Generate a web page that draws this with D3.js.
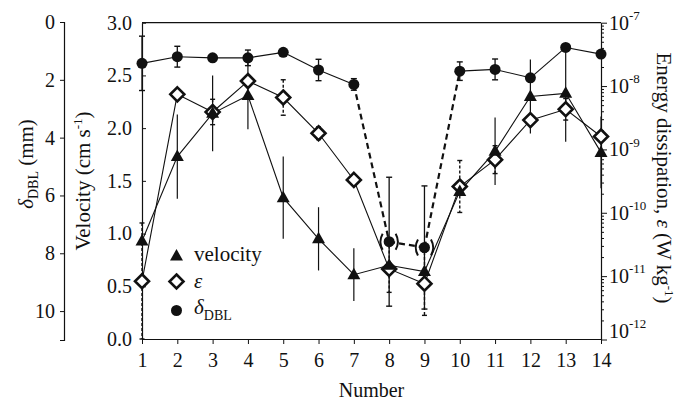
<!DOCTYPE html>
<html>
<head>
<meta charset="utf-8">
<script src="https://cdn.jsdelivr.net/npm/d3@7"></script>
<style>
  html, body { margin: 0; padding: 0; background: #fff; }
  svg { display: block; }
  text { font-family: "Liberation Serif", "Times New Roman", serif; fill: #111; }
</style>
</head>
<body>
<svg id="chart" width="689" height="408"></svg>
<script>
// ---- data ----
const numbers = [1, 2, 3, 4, 5, 6, 7, 8, 9, 10, 11, 12, 13, 14];
const velocity = [0.93, 1.73, 2.14, 2.31, 1.34, 0.95, 0.61, 0.70, 0.64, 1.40, 1.78, 2.30, 2.33, 1.77];
const velocitySD = [0, 0.40, 0.36, 0.32, 0.39, 0.30, 0.25, 0, 0, 0, 0.32, 0.35, 0.46, 0.34];
const epsilon = [8.3e-12, 7.4e-9, 3.9e-9, 1.2e-8, 6.6e-9, 1.8e-9, 3.3e-10, 1.3e-11, 7.6e-12, 2.6e-10, 6.9e-10, 2.9e-9, 4.3e-9, 1.6e-9];
const epsilonErrDecades = [0.92, 0, 0.2, 0.05, 0.28, 0.1, 0.05, 0.37, 0.5, 0.41, 0.22, 0, 0.17, 0];
const delta = [1.43, 1.20, 1.24, 1.24, 1.05, 1.66, 2.16, 7.6, 7.8, 1.70, 1.64, 1.93, 0.88, 1.11];
const deltaSD = [0.94, 0.36, 0.10, 0.27, 0, 0.37, 0.20, 2.23, 2.13, 0.32, 0.36, 0.10, 0.10, 0.10];
const deltaUncertain = [8, 9];           // points shown in parentheses
const deltaDashedFrom = [7, 8, 9];       // segments starting at these numbers are dashed
const velocityTicks = [0, 0.5, 1.0, 1.5, 2.0, 2.5, 3.0];
const deltaTicks = [0, 2, 4, 6, 8, 10];
const epsTicks = [1e-12, 1e-11, 1e-10, 1e-9, 1e-8, 1e-7];

// ---- layout ----
const FONT = '"Liberation Serif", "Times New Roman", serif';
const svg = d3.select("#chart").attr("font-family", FONT);
const pL = 142, pR = 601, pT = 22.7, pB = 339;
const x = d3.scaleLinear().domain([1, 14]).range([pL, pR]);
const yV = d3.scaleLinear().domain([0, 3]).range([pB, pT]);
const yD = d3.scaleLinear().domain([0, 11]).range([22, 340]);
const yE = d3.scaleLog().domain([1e-12, 1e-7]).range([339.5, pT]);
const ink = "#111";

// frame top
svg.append("line").attr("x1", pL).attr("x2", pR).attr("y1", pT).attr("y2", pT)
  .attr("stroke", ink).attr("stroke-width", 1.2);

// δ axis (far left)
const gD = svg.append("g").attr("transform", "translate(64,0)")
  .call(d3.axisLeft(yD).tickValues(deltaTicks).tickFormat(d3.format("d")).tickSize(4).tickPadding(5));
// velocity axis
const gV = svg.append("g").attr("transform", `translate(${pL},0)`)
  .call(d3.axisLeft(yV).tickValues(velocityTicks).tickFormat(d3.format(".1f")).tickSizeInner(-4).tickSizeOuter(0).tickPadding(10));
// x axis
const gX = svg.append("g").attr("transform", `translate(0,${pB})`)
  .call(d3.axisBottom(x).tickValues(numbers).tickFormat(d3.format("d")).tickSize(5).tickSizeOuter(0).tickPadding(9));
// ε axis (right, log)
const minor = [];
for (let e = -12; e < -7; e++) for (let m = 2; m <= 9; m++) minor.push(m * Math.pow(10, e));
const gEm = svg.append("g").attr("transform", `translate(${pR},0)`)
  .call(d3.axisRight(yE).tickValues(minor).tickFormat("").tickSizeInner(3).tickSizeOuter(0));
gEm.select(".domain").remove();
const gE = svg.append("g").attr("transform", `translate(${pR},0)`)
  .call(d3.axisRight(yE).tickValues(epsTicks).tickFormat("").tickSizeInner(6).tickSizeOuter(0));

[gD, gV, gX, gE, gEm].forEach(g => {
  g.attr("font-family", FONT).attr("font-size", 20);
  g.selectAll("path.domain").attr("stroke", ink).attr("stroke-width", 1.2);
  g.selectAll(".tick line").attr("stroke", ink).attr("stroke-width", 1);
  g.selectAll("text").attr("font-size", 20).attr("font-family", FONT).attr("fill", ink);
});

// right axis labels 10^n
epsTicks.forEach(v => {
  const e = Math.round(Math.log10(v));
  let yy = yE(v);
  if (e === -12) yy -= 9;
  const t = svg.append("text").attr("x", pR + 8).attr("y", yy).attr("dy", "0.35em").attr("font-size", 20);
  t.append("tspan").text("10");
  t.append("tspan").attr("font-size", 13).attr("dy", "-0.75em").text(String(e));
});

// axis titles
const tD = svg.append("text").attr("transform", "translate(33,164) rotate(-90)")
  .attr("text-anchor", "middle").attr("font-size", 21);
tD.append("tspan").attr("font-style", "italic").text("δ");
tD.append("tspan").attr("font-size", 14).attr("dy", 5).text("DBL");
tD.append("tspan").attr("dy", -5).text(" (mm)");

const tV = svg.append("text").attr("transform", "translate(90,181) rotate(-90)")
  .attr("text-anchor", "middle").attr("font-size", 21);
tV.append("tspan").text("Velocity (cm s");
tV.append("tspan").attr("font-size", 13).attr("dy", -8).text("-1");
tV.append("tspan").attr("dy", 8).text(")");

const tE = svg.append("text").attr("transform", "translate(657,178) rotate(90)")
  .attr("text-anchor", "middle").attr("font-size", 21);
tE.append("tspan").text("Energy dissipation, ");
tE.append("tspan").attr("font-style", "italic").text("ε");
tE.append("tspan").text(" (W kg");
tE.append("tspan").attr("font-size", 13).attr("dy", -8).text("-1");
tE.append("tspan").attr("dy", 8).text(")");

svg.append("text").attr("x", (pL + pR) / 2).attr("y", 397).attr("text-anchor", "middle")
  .attr("font-size", 20).text("Number");

// ---- series ----
const idx = d3.range(numbers.length);

// δ line: solid and dashed segments
idx.slice(0, -1).forEach(i => {
  const dashed = deltaDashedFrom.includes(numbers[i]);
  svg.append("line")
    .attr("x1", x(numbers[i])).attr("y1", yD(delta[i]))
    .attr("x2", x(numbers[i + 1])).attr("y2", yD(delta[i + 1]))
    .attr("stroke", ink).attr("stroke-width", dashed ? 2.2 : 1.1)
    .attr("stroke-dasharray", dashed ? "6,4" : null);
});
// ε line
svg.append("path").datum(idx)
  .attr("d", d3.line().x(i => x(numbers[i])).y(i => yE(epsilon[i])))
  .attr("fill", "none").attr("stroke", ink).attr("stroke-width", 1.1);
// velocity line
svg.append("path").datum(idx)
  .attr("d", d3.line().x(i => x(numbers[i])).y(i => yV(velocity[i])))
  .attr("fill", "none").attr("stroke", ink).attr("stroke-width", 1.1);

// error bars
function vbar(xx, y1, y2, opts) {
  svg.append("line").attr("x1", xx).attr("x2", xx).attr("y1", y1).attr("y2", y2)
    .attr("stroke", ink).attr("stroke-width", opts.w || 1.2).attr("stroke-dasharray", opts.dash || null);
  if (opts.cap) {
    [y1, y2].forEach(yy => svg.append("line").attr("x1", xx - opts.cap).attr("x2", xx + opts.cap)
      .attr("y1", yy).attr("y2", yy).attr("stroke", ink).attr("stroke-width", 1.4));
  }
}
idx.forEach(i => {
  const xx = x(numbers[i]);
  if (deltaSD[i] > 0) vbar(xx, yD(delta[i] - deltaSD[i]), yD(delta[i] + deltaSD[i]), { cap: 3, w: 1.3 });
  if (epsilonErrDecades[i] > 0) {
    const l = Math.log10(epsilon[i]);
    vbar(xx, yE(Math.pow(10, l + epsilonErrDecades[i])), Math.min(pB, yE(Math.pow(10, l - epsilonErrDecades[i]))),
      { cap: 2.5, dash: "3,2", w: 1.4 });
  }
  if (velocitySD[i] > 0) vbar(xx, yV(velocity[i] + velocitySD[i]), yV(velocity[i] - velocitySD[i]), { w: 1.2 });
});

// markers
const triPath = "M0,-7L6.5,4.5L-6.5,4.5Z";
const diaPath = "M0,-7L7,0L0,7L-7,0Z";
function circleAt(g, cx, cy) { g.append("circle").attr("cx", cx).attr("cy", cy).attr("r", 5.5).attr("fill", ink); }
function diamondAt(g, cx, cy) {
  g.append("path").attr("d", diaPath).attr("transform", `translate(${cx},${cy})`)
    .attr("fill", "#fff").attr("stroke", ink).attr("stroke-width", 2.6);
}
function triangleAt(g, cx, cy) { g.append("path").attr("d", triPath).attr("transform", `translate(${cx},${cy})`).attr("fill", ink); }

const gm = svg.append("g");
idx.forEach(i => {
  const xx = x(numbers[i]), yy = yD(delta[i]);
  circleAt(gm, xx, yy);
  if (deltaUncertain.includes(numbers[i])) {
    [-1, 1].forEach(s => {
      gm.append("path")
        .attr("d", `M${xx + s * 6.5},${yy - 8}Q${xx + s * 11},${yy} ${xx + s * 6.5},${yy + 8}`)
        .attr("fill", "none").attr("stroke", ink).attr("stroke-width", 2);
    });
  }
});
idx.forEach(i => diamondAt(gm, x(numbers[i]), yE(epsilon[i])));
idx.forEach(i => triangleAt(gm, x(numbers[i]), yV(velocity[i])));

// legend
const lg = svg.append("g");
triangleAt(lg, 176.5, 256);
diamondAt(lg, 176.5, 281.5);
circleAt(lg, 176.5, 310.5);
lg.append("text").attr("x", 194).attr("y", 254).attr("dy", "0.33em").attr("font-size", 21).text("velocity");
lg.append("text").attr("x", 194).attr("y", 281).attr("dy", "0.33em").attr("font-size", 21)
  .attr("font-style", "italic").text("ε");
const ld = lg.append("text").attr("x", 194).attr("y", 307).attr("dy", "0.33em").attr("font-size", 21);
ld.append("tspan").attr("font-style", "italic").text("δ");
ld.append("tspan").attr("font-size", 14).attr("dy", 6).text("DBL");
</script>
</body>
</html>
